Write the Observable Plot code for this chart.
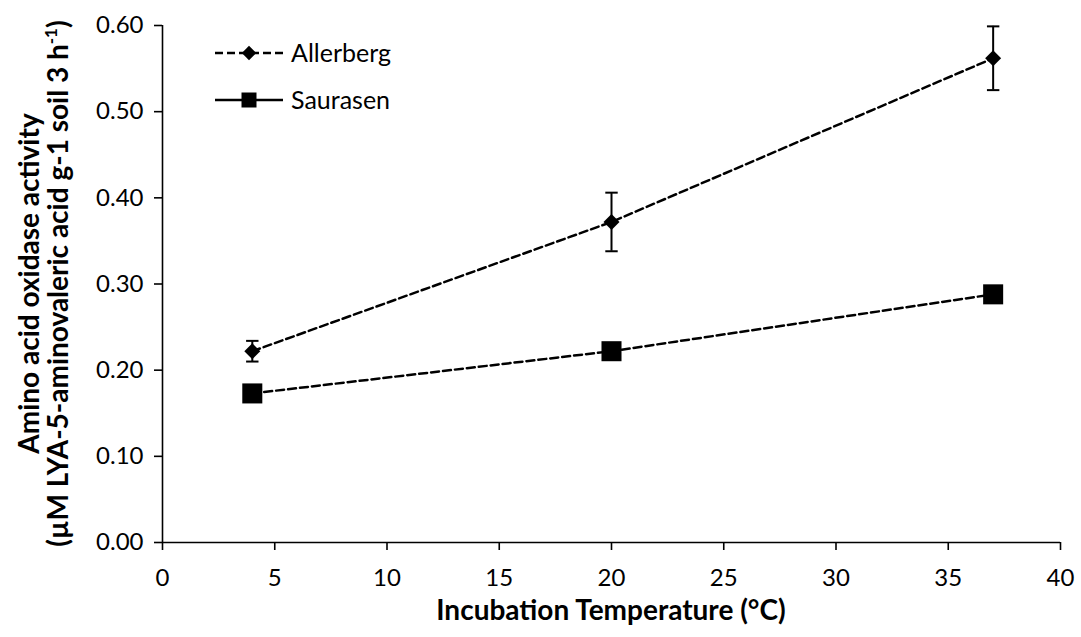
<!DOCTYPE html>
<html>
<head>
<meta charset="utf-8">
<script src="https://cdn.jsdelivr.net/npm/d3@7"></script>
<script src="https://cdn.jsdelivr.net/npm/@observablehq/plot@0.6"></script>
<style>
  html, body { margin: 0; padding: 0; background: #fff; }
  #chart { position: relative; width: 1081px; height: 637px; }
  svg { font-family: Lato, "Open Sans", sans-serif; }
</style>
</head>
<body>
<div id="chart"></div>
<script>
// ---- data ----
const temperatures = [4, 20, 37];
const allerbergValues = [0.222, 0.372, 0.562];
const allerbergErrors = [0.012, 0.034, 0.037];
const saurasenValues = [0.173, 0.222, 0.288];
const seriesNames = ["Allerberg", "Saurasen"];
const xTicks = [0, 5, 10, 15, 20, 25, 30, 35, 40];
const yTicks = [0, 0.1, 0.2, 0.3, 0.4, 0.5, 0.6];
const xTitle = "Incubation Temperature (°C)";
const yTitle1 = "Amino acid oxidase activity";
const yTitle2 = "(µM LYA-5-aminovaleric acid g-1 soil 3 h";

const allerberg = temperatures.map((t, i) => ({t, v: allerbergValues[i], e: allerbergErrors[i]}));
const saurasen = temperatures.map((t, i) => ({t, v: saurasenValues[i]}));

const capSymbol = {
  draw(ctx, size) {
    const w = Math.sqrt(size);
    ctx.moveTo(-w / 2, 0);
    ctx.lineTo(w / 2, 0);
  }
};

const TICK_FS = 24;

const plot = Plot.plot({
  width: 1081,
  height: 637,
  marginLeft: 162,
  marginRight: 21,
  marginTop: 25,
  marginBottom: 95,
  style: {fontFamily: "Lato, 'Open Sans', sans-serif", fontSize: TICK_FS + "px", color: "#000", background: "#fff"},
  x: {domain: [0, 40]},
  y: {domain: [0, 0.6]},
  marks: [
    Plot.ruleY([0], {stroke: "#000", strokeWidth: 1.6}),
    Plot.ruleX([0], {stroke: "#000", strokeWidth: 1.6}),
    Plot.axisX({ticks: xTicks, tickSize: 8, tickPadding: 18, tickFormat: d3.format("d"), label: null, stroke: "#000", strokeWidth: 1.6, fontSize: TICK_FS, fill: "#000"}),
    Plot.axisY({ticks: yTicks, tickSize: 8, tickPadding: 11, tickFormat: d3.format(".2f"), label: null, stroke: "#000", strokeWidth: 1.6, fontSize: TICK_FS, fill: "#000"}),
    Plot.line(saurasen, {x: "t", y: "v", stroke: "#000", strokeWidth: 2.5, strokeDasharray: "8,4"}),
    Plot.line(allerberg, {x: "t", y: "v", stroke: "#000", strokeWidth: 2.5, strokeDasharray: "8,4"}),
    Plot.ruleX(allerberg, {x: "t", y1: d => d.v - d.e, y2: d => d.v + d.e, stroke: "#000", strokeWidth: 2}),
    Plot.dot(allerberg, {x: "t", y: d => d.v - d.e, symbol: capSymbol, r: 7, stroke: "#000", strokeWidth: 2, fill: "none"}),
    Plot.dot(allerberg, {x: "t", y: d => d.v + d.e, symbol: capSymbol, r: 7, stroke: "#000", strokeWidth: 2, fill: "none"}),
    Plot.dot(allerberg, {x: "t", y: "v", symbol: "diamond2", r: 7.2, fill: "#000", stroke: null}),
    Plot.dot(saurasen, {x: "t", y: "v", symbol: "square", r: 11.3, fill: "#000", stroke: null})
  ]
});

document.getElementById("chart").appendChild(plot);

// titles and legend drawn into the same SVG
const svg = d3.select(plot);
const cx = (162 + 1060) / 2;
const cy = (25 + 542) / 2;
const TITLE_FS = 28;

svg.append("text")
  .attr("x", cx).attr("y", 620)
  .attr("text-anchor", "middle")
  .attr("font-weight", "bold").attr("font-size", TITLE_FS)
  .attr("fill", "#000")
  .text(xTitle);

const yt = svg.append("g").attr("transform", `translate(0,${cy}) rotate(-90)`);
yt.append("text")
  .attr("x", 0).attr("y", 39)
  .attr("text-anchor", "middle")
  .attr("font-weight", "bold").attr("font-size", TITLE_FS)
  .attr("fill", "#000")
  .text(yTitle1);
const t2 = yt.append("text")
  .attr("x", 0).attr("y", 68)
  .attr("text-anchor", "middle")
  .attr("font-weight", "bold").attr("font-size", TITLE_FS)
  .attr("fill", "#000");
t2.append("tspan").text(yTitle2);
t2.append("tspan").attr("font-size", 17).attr("dy", -11).text("-1");
t2.append("tspan").attr("dy", 11).text(")");

// legend
const leg = svg.append("g");
const legendRows = [
  {name: seriesNames[0], y: 53, dash: "8,4", sym: "diamond"},
  {name: seriesNames[1], y: 100, dash: null, sym: "square"}
];
legendRows.forEach(r => {
  const line = leg.append("line")
    .attr("x1", 215).attr("x2", 283).attr("y1", r.y).attr("y2", r.y)
    .attr("stroke", "#000").attr("stroke-width", 2.5);
  if (r.dash) line.attr("stroke-dasharray", r.dash);
  const sym = r.sym === "diamond" ? d3.symbolDiamond2 : d3.symbolSquare;
  const size = r.sym === "diamond" ? 130 : 225;
  leg.append("path")
    .attr("d", d3.symbol(sym, size)())
    .attr("transform", `translate(249,${r.y})`)
    .attr("fill", "#000");
  leg.append("text")
    .attr("x", 291).attr("y", r.y + 9)
    .attr("text-anchor", "start")
    .attr("font-size", 25).attr("fill", "#000")
    .text(r.name);
});
</script>
</body>
</html>
